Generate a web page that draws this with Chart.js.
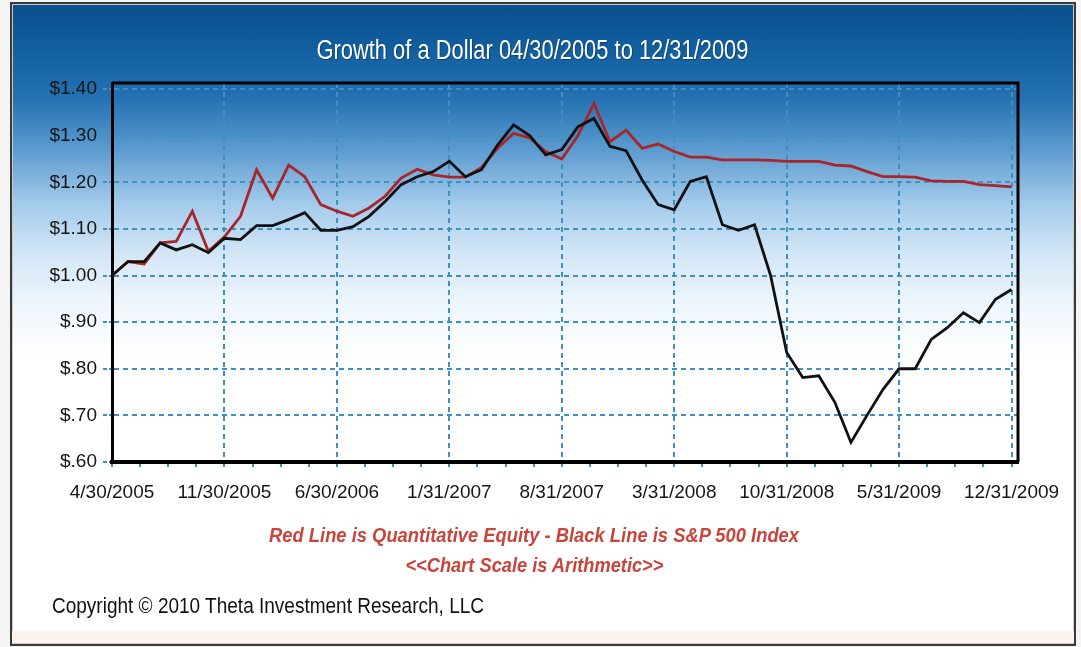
<!DOCTYPE html>
<html>
<head>
<meta charset="utf-8">
<script src="https://cdn.jsdelivr.net/npm/chart.js@4.4.1/dist/chart.umd.min.js"></script>
<style>
    body { margin: 0; background: #f4f4f4; width: 1081px; height: 647px; position: relative; overflow: hidden; }
    #frame {
        position: absolute; left: 10px; top: 2px; width: 1062px; height: 640px;
        border: 2px solid #3a3a3a;
        box-shadow: inset 0 0 0 1px #c9c9c9;
        background: linear-gradient(to bottom, #0a4f8e 0px, #105d9d 40px, #2572b3 95px, #5b9acf 145px, #a3cbeb 200px, #d3e6f6 250px, #eef6fc 300px, #ffffff 355px, #ffffff 100%);
    }
    #strip { position: absolute; left: 12px; top: 631px; width: 1062px; height: 12px; background: #fdf2ed; }
    canvas { position: absolute; left: 0; top: 0; }
    .txt { position: absolute; font-family: 'Liberation Sans', Arial, sans-serif; white-space: nowrap; }
    .txt span { display: inline-block; transform-origin: center center; }
    #title { left: 0; width: 1064px; top: 34px; text-align: center; color: #fff; font-size: 27px; line-height: 32px; text-shadow: 1px 1px 1px rgba(0,0,0,0.35); }
    .note { left: 0; width: 1068px; text-align: center; color: #c9443a; font-size: 21px; font-weight: bold; font-style: italic; line-height: 24px; }
    #note1 { top: 523px; }
    #note2 { top: 553px; }
    #copy { left: 52px; top: 594px; color: #111; font-size: 22px; line-height: 24px; }
    #copy span { transform-origin: left center; }
</style>
</head>
<body>
<div id="frame"></div>
<div id="strip"></div>
<canvas id="chartGrowth" width="1081" height="647"></canvas>
<div class="txt" id="title"><span>Growth of a Dollar 04/30/2005 to 12/31/2009</span></div>
<div class="txt note" id="note1"><span>Red Line is Quantitative Equity - Black Line is S&amp;P 500 Index</span></div>
<div class="txt note" id="note2"><span>&lt;&lt;Chart Scale is Arithmetic&gt;&gt;</span></div>
<div class="txt" id="copy"><span>Copyright © 2010 Theta Investment Research, LLC</span></div>
<script>
// Growth of $1, month ends 4/30/2005 .. 12/31/2009 (57 months)
const tickLabels = ['4/30/2005', '11/30/2005', '6/30/2006', '1/31/2007', '8/31/2007', '3/31/2008', '10/31/2008', '5/31/2009', '12/31/2009'];
const yTicks = [0.6, 0.7, 0.8, 0.9, 1.0, 1.1, 1.2, 1.3, 1.4];

const quantEquity = [
    1.00, 1.03, 1.025, 1.07, 1.073, 1.138, 1.052, 1.083, 1.127, 1.227,
    1.166, 1.237, 1.212, 1.152, 1.138, 1.127, 1.145, 1.17, 1.209, 1.228,
    1.216, 1.211, 1.211, 1.232, 1.273, 1.305, 1.295, 1.266, 1.25, 1.30,
    1.369, 1.287, 1.312, 1.273, 1.282, 1.266, 1.254, 1.254, 1.248, 1.248,
    1.248, 1.247, 1.245, 1.245, 1.245, 1.237, 1.235, 1.223, 1.212, 1.212,
    1.211, 1.203, 1.202, 1.202, 1.195, 1.193, 1.19
];
const sp500 = [
    1.00, 1.03, 1.03, 1.07, 1.055, 1.066, 1.049, 1.08, 1.077, 1.107,
    1.107, 1.12, 1.135, 1.097, 1.097, 1.105, 1.127, 1.159, 1.195, 1.212,
    1.223, 1.245, 1.212, 1.227, 1.28, 1.323, 1.30, 1.259, 1.27, 1.319,
    1.337, 1.277, 1.268, 1.205, 1.152, 1.141, 1.202, 1.212, 1.109, 1.097,
    1.109, 1.00, 0.835, 0.781, 0.785, 0.728, 0.642, 0.70, 0.756, 0.80,
    0.80, 0.863, 0.888, 0.92, 0.899, 0.949, 0.97
];

const FONT = "'Liberation Sans', Arial, sans-serif";
const GRID_BLUE = '#3f8fc0';

// squeeze the html texts to the narrow look of the original
function ajustarLargura(id, alvo) {
    const span = document.querySelector('#' + id + ' span');
    const w = span.getBoundingClientRect().width;
    span.style.transform = `scaleX(${alvo / w})`;
}
ajustarLargura('title', 432);
ajustarLargura('note1', 530);
ajustarLargura('note2', 258);
ajustarLargura('copy', 432);

function toPoints(serie) {
    return serie.map((v, i) => ({ x: i, y: v }));
}

// top and right edges of the plot box
const moldura = {
    id: 'moldura',
    afterDatasetsDraw(chart) {
        const { ctx, chartArea: a } = chart;
        ctx.save();
        ctx.strokeStyle = '#000';
        ctx.lineWidth = 3;
        ctx.beginPath();
        ctx.moveTo(a.left, a.top);
        ctx.lineTo(a.right, a.top);
        ctx.lineTo(a.right, a.bottom);
        ctx.stroke();
        ctx.restore();
    }
};

new Chart(document.getElementById('chartGrowth'), {
    type: 'line',
    data: {
        datasets: [
            { label: 'S&P 500 Index', data: toPoints(sp500), borderColor: '#111', borderWidth: 2.8 },
            { label: 'Quantitative Equity', data: toPoints(quantEquity), borderColor: '#a8252a', borderWidth: 2.8 }
        ]
    },
    options: {
        responsive: false,
        animation: false,
        layout: { padding: { top: 83, right: 63, left: 0, bottom: 0 } },
        elements: { point: { radius: 0 }, line: { tension: 0 } },
        plugins: { legend: { display: false }, tooltip: { enabled: false } },
        scales: {
            x: {
                type: 'linear',
                min: 0,
                max: 56.4,
                afterBuildTicks: s => { s.ticks = Array.from({ length: 33 }, (_, k) => ({ value: k * 1.75 })); },
                afterFit: s => { s.height = 185; },
                ticks: {
                    autoSkip: false, maxRotation: 0, padding: 12,
                    color: '#151515', font: { family: FONT, size: 19 },
                    callback: v => (v % 7 === 0 ? tickLabels[v / 7] : '')
                },
                grid: {
                    lineWidth: 2,
                    color: c => (c.tick && c.tick.value % 7 === 0 && c.tick.value > 0 ? GRID_BLUE : 'rgba(0,0,0,0)'),
                    tickColor: GRID_BLUE,
                    tickLength: 7,
                    tickBorderDash: [3, 2]
                },
                border: { display: true, color: '#000', width: 4, dash: [5, 4] }
            },
            y: {
                min: 0.6,
                max: 1.413,
                afterBuildTicks: s => { s.ticks = yTicks.map(v => ({ value: v })); },
                afterFit: s => { s.width = 112; },
                ticks: {
                    padding: 6,
                    color: '#151515', font: { family: FONT, size: 19 },
                    callback: v => '$' + (v >= 1 ? v.toFixed(2) : v.toFixed(2).slice(1))
                },
                grid: { lineWidth: 2, color: GRID_BLUE, tickColor: GRID_BLUE, tickLength: 9, tickBorderDash: [4, 2] },
                border: { display: true, color: '#000', width: 3, dash: [5, 4] }
            }
        }
    },
    plugins: [moldura]
});
</script>
</body>
</html>
